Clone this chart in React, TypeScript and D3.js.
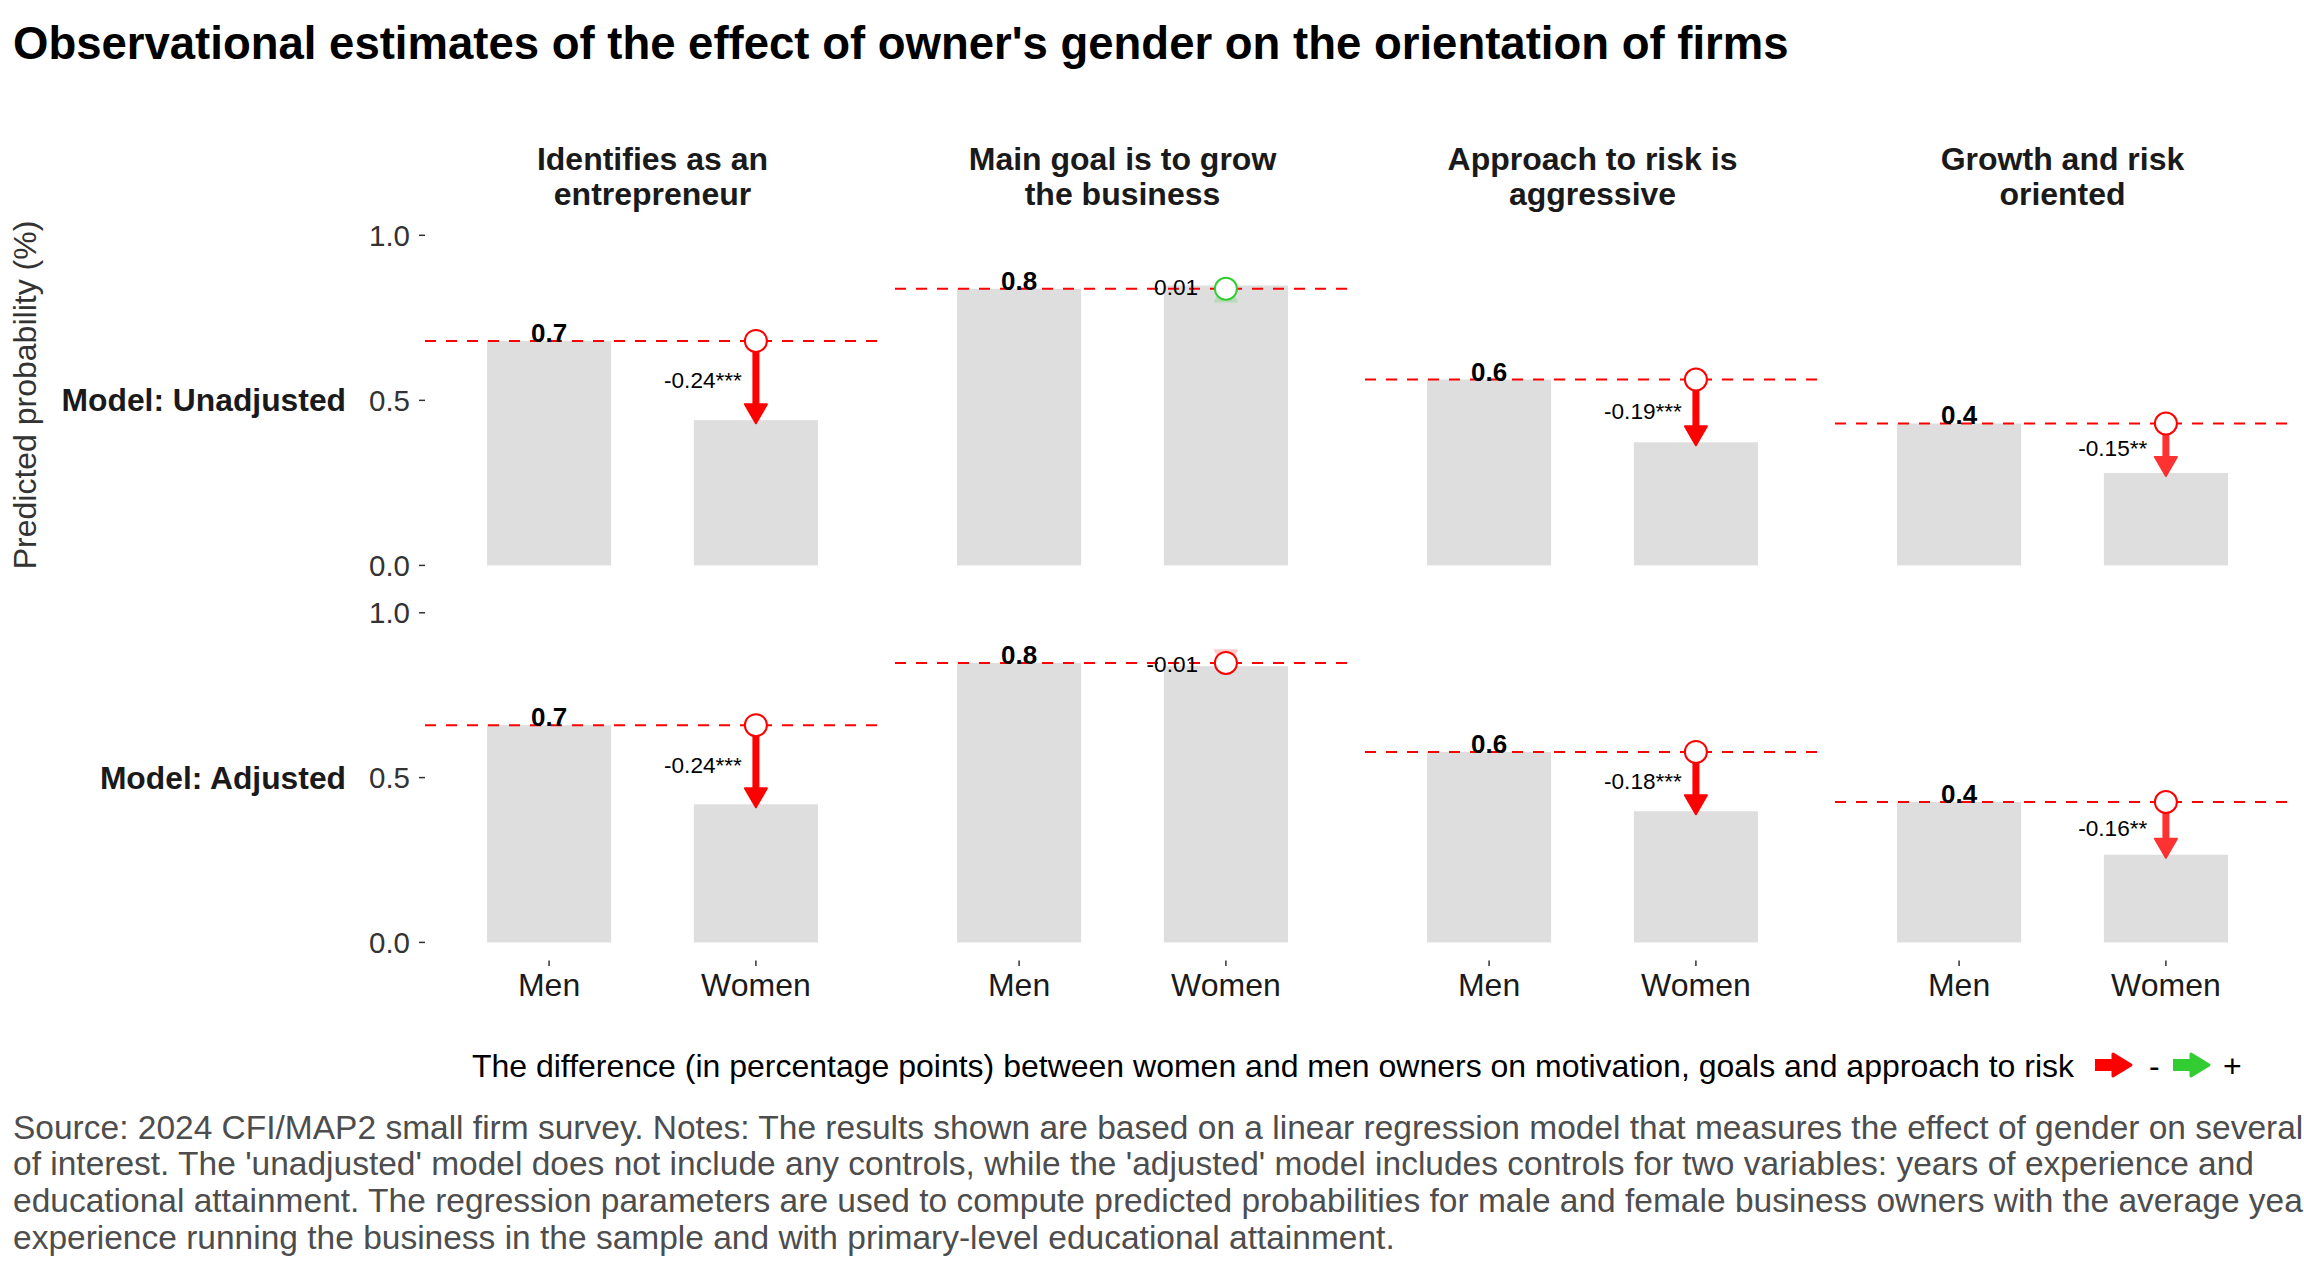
import React from 'react';
import * as d3 from 'd3';

const WIDTH = 2304;
const HEIGHT = 1267;
const FONT = 'Liberation Sans, Arial, Helvetica, sans-serif';

// facets
const outcomes = [
  ['Identifies as an', 'entrepreneur'],
  ['Main goal is to grow', 'the business'],
  ['Approach to risk is', 'aggressive'],
  ['Growth and risk', 'oriented'],
];
const models = ['Model: Unadjusted', 'Model: Adjusted'];
const genders = ['Men', 'Women'];

// predicted probabilities
const menUnadj = [0.68, 0.838, 0.563, 0.43];
const womenUnadj = [0.44, 0.848, 0.373, 0.28];
const diffUnadj = ['-0.24', '0.01', '-0.19', '-0.15'];
const starsUnadj = ['***', '', '***', '**'];

const menAdj = [0.659, 0.848, 0.578, 0.426];
const womenAdj = [0.419, 0.838, 0.398, 0.266];
const diffAdj = ['-0.24', '-0.01', '-0.18', '-0.16'];
const starsAdj = ['***', '', '***', '**'];

const yTicks = [0, 0.5, 1];

const captionLines = [
  'Source: 2024 CFI/MAP2 small firm survey. Notes: The results shown are based on a linear regression model that measures the effect of gender on several outcomes',
  "of interest. The 'unadjusted' model does not include any controls, while the 'adjusted' model includes controls for two variables: years of experience and",
  'educational attainment. The regression parameters are used to compute predicted probabilities for male and female business owners with the average years of',
  'experience running the business in the sample and with primary-level educational attainment.',
];

const rows = [
  { men: menUnadj, women: womenUnadj, diff: diffUnadj, stars: starsUnadj },
  { men: menAdj, women: womenAdj, diff: diffAdj, stars: starsAdj },
];

const RED = '#ff0000';
const GREEN = '#32cd32';

// layout
const panelLeft = 425;
const panelW = 455;
const panelGap = 15;
const rowY = [
  { zero: 565.4, one: 235.3 },
  { zero: 942.4, one: 612.8 },
];

const alphaFor = (s: string) => (s === '***' ? 1 : s === '**' ? 0.8 : s === '*' ? 0.6 : 0.2);

const Arrow = ({ x, y0, y1, color, opacity }: any) => {
  const dir = y1 >= y0 ? 1 : -1;
  const tip = y1 + 3 * dir;
  const base = tip - 19 * dir;
  return (
    <g opacity={opacity}>
      <line x1={x} x2={x} y1={y0} y2={base} stroke={color} strokeWidth={7} />
      <path
        d={`M${x - 11},${base} L${x + 11},${base} L${x},${tip} Z`}
        fill={color}
        stroke={color}
        strokeWidth={2}
        strokeLinejoin="round"
      />
    </g>
  );
};

const LegendArrow = ({ x, y, color }: any) => (
  <g>
    <rect x={x} y={y - 6} width={22} height={12} fill={color} />
    <path
      d={`M${x + 18},${y - 11} L${x + 36},${y} L${x + 18},${y + 11} Z`}
      fill={color}
      stroke={color}
      strokeWidth={3}
      strokeLinejoin="round"
    />
  </g>
);

const App = () => {
  return (
    <svg
      width={WIDTH}
      height={HEIGHT}
      viewBox={`0 0 ${WIDTH} ${HEIGHT}`}
      style={{ position: 'absolute', left: 0, top: 0, background: '#fff' }}
      fontFamily={FONT}
    >
      <rect width={WIDTH} height={HEIGHT} fill="#fff" />
      <text x={13} y={59} fontSize={45.5} fontWeight="bold" fill="#000">
        Observational estimates of the effect of owner's gender on the orientation of firms
      </text>

      {/* strip titles */}
      {outcomes.map((lines, i) => (
        <text
          key={`s${i}`}
          x={panelLeft + i * (panelW + panelGap) + panelW / 2}
          textAnchor="middle"
          fontSize={32}
          fontWeight="bold"
          fill="#1a1a1a"
        >
          {lines.map((l, j) => (
            <tspan key={j} x={panelLeft + i * (panelW + panelGap) + panelW / 2} y={170 + j * 35}>
              {l}
            </tspan>
          ))}
        </text>
      ))}

      {/* y axis title */}
      <text
        transform="translate(36,395) rotate(-90)"
        textAnchor="middle"
        fontSize={32}
        fill="#333"
      >
        Predicted probability (%)
      </text>

      {rows.map((row, r) => {
        const y = d3.scaleLinear().domain([0, 1]).range([rowY[r].zero, rowY[r].one]);
        return (
          <g key={`r${r}`}>
            <text
              x={346}
              y={y(0.5)}
              dy="0.35em"
              textAnchor="end"
              fontSize={31.8}
              fontWeight="bold"
              fill="#1a1a1a"
            >
              {models[r]}
            </text>
            {yTicks.map((t) => (
              <g key={t}>
                <line x1={419} x2={425} y1={y(t)} y2={y(t)} stroke="#333" strokeWidth={1.5} />
                <text x={410} y={y(t)} dy="0.35em" textAnchor="end" fontSize={29.5} fill="#333">
                  {d3.format('.1f')(t)}
                </text>
              </g>
            ))}
            {outcomes.map((_, i) => {
              const x0 = panelLeft + i * (panelW + panelGap);
              const x = d3.scaleLinear().domain([0.4, 2.6]).range([x0, x0 + panelW]);
              const bw = x(1.3) - x(0.7);
              const men = row.men[i];
              const women = row.women[i];
              const positive = !row.diff[i].startsWith('-');
              const col = positive ? GREEN : RED;
              const mid = (y(men) + y(women)) / 2;
              const fs = 22.6;
              const pad = (3 - row.stars[i].length) * 4.6;
              return (
                <g key={`p${r}${i}`}>
                  {[men, women].map((v, k) => (
                    <rect
                      key={k}
                      x={x(k + 1) - bw / 2}
                      y={y(v)}
                      width={bw}
                      height={y(0) - y(v)}
                      fill="#dedede"
                    />
                  ))}
                  <line
                    x1={x(0.4)}
                    x2={x(2.6)}
                    y1={y(men)}
                    y2={y(men)}
                    stroke={RED}
                    strokeWidth={2}
                    strokeDasharray="11,10"
                  />
                  <text
                    x={x(1)}
                    y={y(men) + 1}
                    textAnchor="middle"
                    fontSize={26}
                    fontWeight="bold"
                    fill="#000"
                  >
                    {d3.format('.1f')(men)}
                  </text>
                  <Arrow x={x(2)} y0={y(men)} y1={y(women)} color={col} opacity={alphaFor(row.stars[i])} />
                  <circle cx={x(2)} cy={y(men)} r={11} fill="#fff" stroke={col} strokeWidth={2} />
                  <text
                    x={x(2) - 14 - pad}
                    y={mid}
                    dy="0.35em"
                    textAnchor="end"
                    fontSize={fs}
                    fill="#000"
                  >
                    {row.diff[i] + row.stars[i]}
                  </text>
                  {r === 1 &&
                    genders.map((g, k) => (
                      <g key={g}>
                        <line x1={x(k + 1)} x2={x(k + 1)} y1={960.5} y2={966} stroke="#333" strokeWidth={1.5} />
                        <text x={x(k + 1)} y={996} textAnchor="middle" fontSize={32} fill="#1a1a1a">
                          {g}
                        </text>
                      </g>
                    ))}
                </g>
              );
            })}
          </g>
        );
      })}

      {/* legend */}
      <text x={2074} y={1066} dy="0.35em" textAnchor="end" fontSize={32} fill="#000">
        The difference (in percentage points) between women and men owners on motivation, goals and approach to risk
      </text>
      <LegendArrow x={2095} y={1065} color={RED} />
      <text x={2149} y={1066} dy="0.35em" fontSize={32} fill="#000">-</text>
      <LegendArrow x={2173} y={1065} color={GREEN} />
      <text x={2223} y={1066} dy="0.35em" fontSize={32} fill="#000">+</text>

      {/* caption */}
      {captionLines.map((l, i) => (
        <text key={`c${i}`} x={13} y={1127 + i * 36.6} dy="0.35em" fontSize={33.5} fill="#4d4d4d">
          {l}
        </text>
      ))}
    </svg>
  );
};

export default App;
